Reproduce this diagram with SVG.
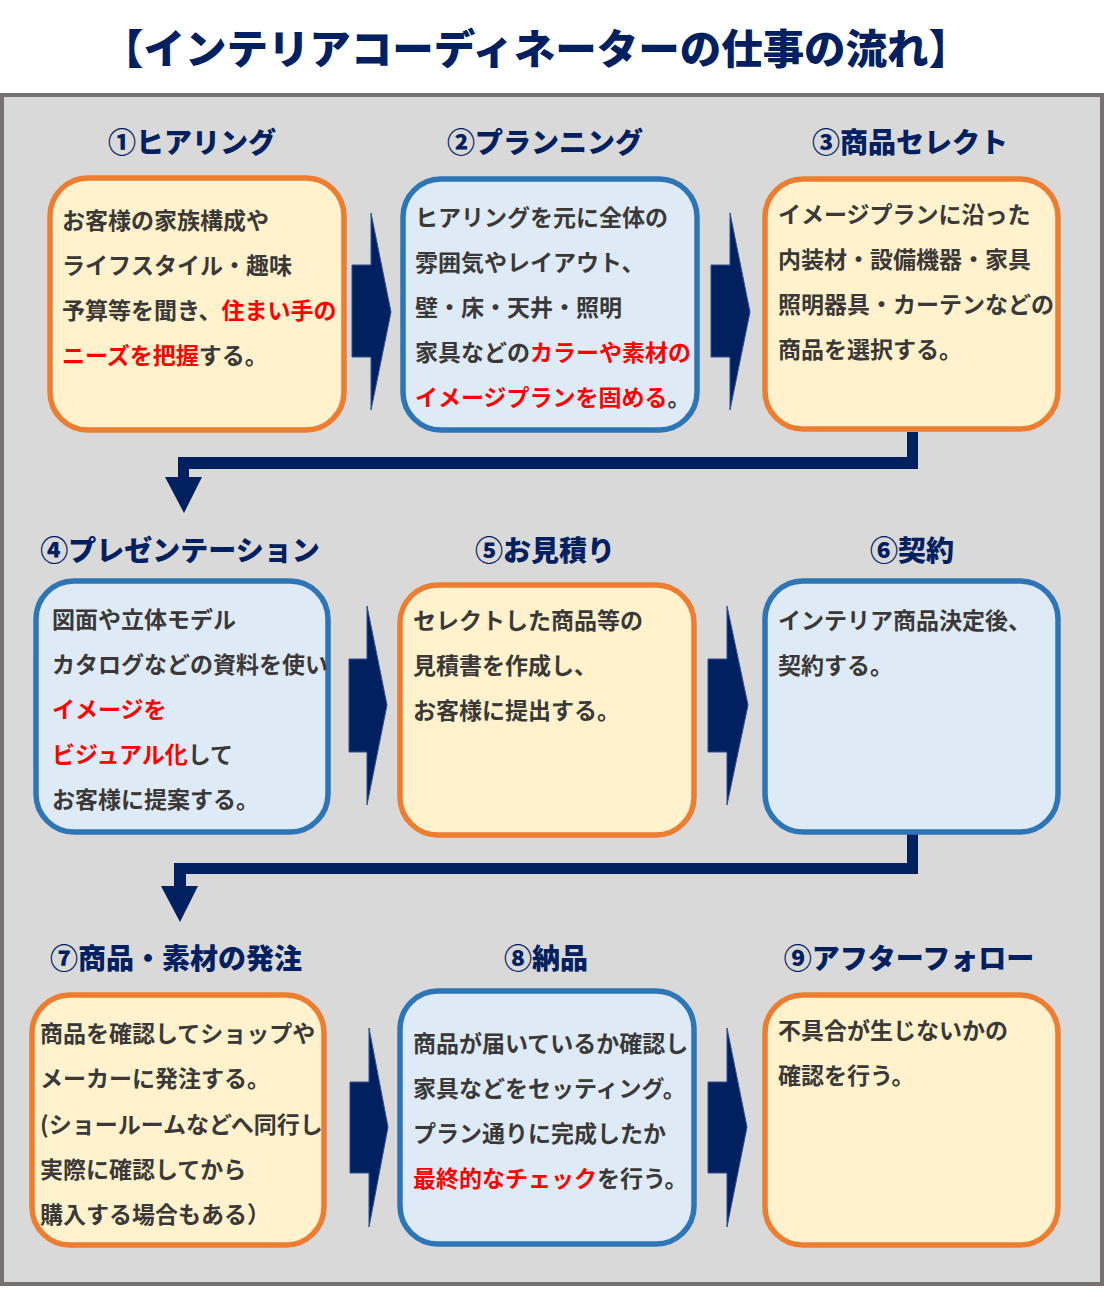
<svg xmlns="http://www.w3.org/2000/svg" width="1104" height="1289" viewBox="0 0 1104 1289">
<style>
.title{font-family:"Noto Sans CJK JP","Noto Sans CJK SC",sans-serif;font-weight:900;font-size:41px;fill:#002060}
.head{font-family:"Noto Sans CJK JP","Noto Sans CJK SC",sans-serif;font-weight:900;font-size:28px;fill:#002060;text-anchor:middle}
.body{font-family:"Noto Sans CJK JP","Noto Sans CJK SC",sans-serif;font-weight:700;font-size:23px;fill:#3b3838}
.red{fill:#ff0000}
.ob{fill:#fff2cc;stroke:#ed7d31;stroke-width:5.5}
.bb{fill:#deebf7;stroke:#2e75b6;stroke-width:5.5}
.arr{fill:#002060;stroke:#2f4f8f;stroke-width:1}
.conn{fill:#002060}
</style>
<rect x="0" y="0" width="1104" height="1289" fill="#ffffff"/>
<text class="title" x="536" y="64" text-anchor="middle" textLength="868" lengthAdjust="spacingAndGlyphs">【インテリアコーディネーターの仕事の流れ】</text>
<rect x="2" y="95" width="1100" height="1189" fill="#d9d9d9" stroke="#767171" stroke-width="4"/>

<g id="connectors">
<polygon class="arr" points="352,265 371,265 371,213 391,312 371,410 371,357 352,357"/>
<polygon class="arr" points="711,265 730,265 730,213 750,312 730,410 730,357 711,357"/>
<polygon class="arr" points="349,659 367,659 367,606 387,705 367,805 367,752 349,752"/>
<polygon class="arr" points="708,659 727,659 727,606 748,705 727,805 727,752 708,752"/>
<polygon class="arr" points="350,1082 369,1082 369,1028 388,1127 369,1227 369,1173 350,1173"/>
<polygon class="arr" points="708,1082 727,1082 727,1028 747,1127 727,1227 727,1173 708,1173"/>
<path class="conn" d="M907,432 H918 V469 H189 V477 H202 L184,513 L165,477 H178 V457 H907 Z"/>
<path class="conn" d="M907,834 H918 V874 H186 V886 H198 L180,922 L161,886 H174 V863 H907 Z"/>
</g>

<g id="step1">
<text class="head" x="192" y="153">①ヒアリング</text>
<rect class="ob" x="50" y="178" width="294" height="252" rx="38"/>
<text class="body" x="62" y="229">お客様の家族構成や</text>
<text class="body" x="62" y="274">ライフスタイル・趣味</text>
<text class="body" x="62" y="319">予算等を聞き、<tspan class="red">住まい手の</tspan></text>
<text class="body" x="62" y="364"><tspan class="red">ニーズを把握</tspan>する。</text>
</g>

<g id="step2">
<text class="head" x="545" y="153">②プランニング</text>
<rect class="bb" x="403" y="179" width="294" height="251" rx="38"/>
<text class="body" x="415" y="226">ヒアリングを元に全体の</text>
<text class="body" x="415" y="271">雰囲気やレイアウト、</text>
<text class="body" x="415" y="316">壁・床・天井・照明</text>
<text class="body" x="415" y="361">家具などの<tspan class="red">カラーや素材の</tspan></text>
<text class="body" x="415" y="406"><tspan class="red">イメージプランを固める</tspan>。</text>
</g>

<g id="step3">
<text class="head" x="910" y="153">③商品セレクト</text>
<rect class="ob" x="765" y="179" width="293" height="250" rx="38"/>
<text class="body" x="778" y="223">イメージプランに沿った</text>
<text class="body" x="778" y="268">内装材・設備機器・家具</text>
<text class="body" x="778" y="313">照明器具・カーテンなどの</text>
<text class="body" x="778" y="358">商品を選択する。</text>
</g>

<g id="step4">
<text class="head" x="180" y="561">④プレゼンテーション</text>
<rect class="bb" x="36" y="581" width="292" height="251" rx="38"/>
<text class="body" x="52" y="628">図面や立体モデル</text>
<text class="body" x="52" y="673">カタログなどの資料を使い</text>
<text class="body" x="52" y="718"><tspan class="red">イメージを</tspan></text>
<text class="body" x="52" y="763"><tspan class="red">ビジュアル化</tspan>して</text>
<text class="body" x="52" y="808">お客様に提案する。</text>
</g>

<g id="step5">
<text class="head" x="545" y="561">⑤お見積り</text>
<rect class="ob" x="400" y="585" width="294" height="250" rx="38"/>
<text class="body" x="413" y="629">セレクトした商品等の</text>
<text class="body" x="413" y="674">見積書を作成し、</text>
<text class="body" x="413" y="719">お客様に提出する。</text>
</g>

<g id="step6">
<text class="head" x="912" y="561">⑥契約</text>
<rect class="bb" x="765" y="581" width="293" height="251" rx="38"/>
<text class="body" x="778" y="629">インテリア商品決定後、</text>
<text class="body" x="778" y="674">契約する。</text>
</g>

<g id="step7">
<text class="head" x="176" y="969">⑦商品・素材の発注</text>
<rect class="ob" x="32" y="995" width="292" height="250" rx="38"/>
<text class="body" x="40" y="1042">商品を確認してショップや</text>
<text class="body" x="40" y="1087">メーカーに発注する。</text>
<text class="body" x="40" y="1133">(ショールームなどへ同行し</text>
<text class="body" x="40" y="1178">実際に確認してから</text>
<text class="body" x="40" y="1223">購入する場合もある）</text>
</g>

<g id="step8">
<text class="head" x="546" y="969">⑧納品</text>
<rect class="bb" x="400" y="991" width="294" height="253" rx="38"/>
<text class="body" x="413" y="1052">商品が届いているか確認し</text>
<text class="body" x="413" y="1097">家具などをセッティング。</text>
<text class="body" x="413" y="1142">プラン通りに完成したか</text>
<text class="body" x="413" y="1187"><tspan class="red">最終的なチェック</tspan>を行う。</text>
</g>

<g id="step9">
<text class="head" x="909" y="969">⑨アフターフォロー</text>
<rect class="ob" x="765" y="995" width="293" height="250" rx="38"/>
<text class="body" x="778" y="1039">不具合が生じないかの</text>
<text class="body" x="778" y="1084">確認を行う。</text>
</g>
</svg>
